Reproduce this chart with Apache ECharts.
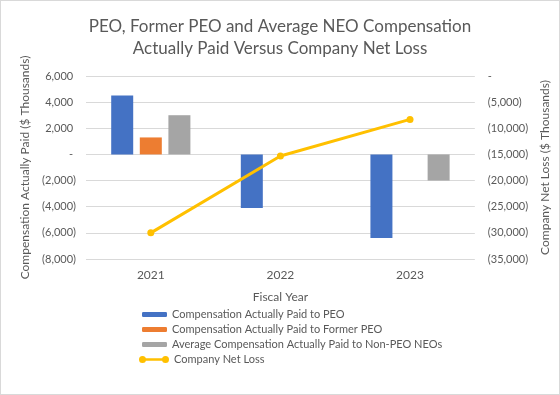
<!DOCTYPE html>
<html><head><meta charset="utf-8">
<script src="https://cdn.jsdelivr.net/npm/echarts@6/dist/echarts.min.js"></script>
<style>html,body{margin:0;padding:0;background:#fff}#c{width:560px;height:395px;box-sizing:border-box;border:1px solid #d9d9d9}</style>
</head><body><div id="c"></div>
<script>
const categories = ['2021', '2022', '2023'];
const peoCap = [4500, -4100, -6400];
const formerPeoCap = [1300, null, null];
const neoCap = [3000, null, -2000];
const netLoss = [-30000, -15300, -8300];
const leftTicks = {min: -8000, max: 6000, interval: 2000};
const rightTicks = {min: -35000, max: 0, interval: 5000};

const FONT = 'Lato';
const GREY = '#595959';
function fmt(v, pad) {
  if (v === 0) return '-' + pad;
  const s = Math.abs(v).toLocaleString('en-US');
  return v < 0 ? '(' + s + ')' : s + pad;
}
const chart = echarts.init(document.getElementById('c'), null, {renderer: 'canvas'});
const lineIcon = 'path://M0,3.5a3.5,3.5 0 1,1 7,0a3.5,3.5 0 1,1 -7,0Z M23,3.5a3.5,3.5 0 1,1 7,0a3.5,3.5 0 1,1 -7,0Z M3,2.3h24v2.4h-24Z';
chart.setOption({
  animation: false,
  textStyle: {fontFamily: FONT, color: GREY},
  title: {
    text: 'PEO, Former PEO and Average NEO Compensation\nActually Paid Versus Company Net Loss',
    left: 'center', top: 10,
    textStyle: {fontFamily: FONT, fontSize: 17, fontWeight: 'normal', color: GREY, lineHeight: 22}
  },
  grid: {left: 85, right: 84, top: 75, bottom: 135, containLabel: false},
  legend: [{
    orient: 'vertical', left: 136, top: 303, itemWidth: 25, itemHeight: 5, itemGap: 4,
    data: ['Compensation Actually Paid to PEO', 'Compensation Actually Paid to Former PEO', 'Average Compensation Actually Paid to Non-PEO NEOs'],
    textStyle: {fontFamily: FONT, fontSize: 11, color: GREY}
  }, {
    orient: 'vertical', left: 133, top: 348, itemWidth: 30, itemHeight: 7,
    data: [{name: 'Company Net Loss', icon: lineIcon, itemStyle: {color: '#FFC000', borderWidth: 0}}],
    textStyle: {fontFamily: FONT, fontSize: 11, color: GREY}
  }],
  xAxis: {
    type: 'category', data: categories,
    name: 'Fiscal Year', nameLocation: 'middle', nameGap: 32,
    nameTextStyle: {fontFamily: FONT, fontSize: 12, color: GREY},
    axisLine: {show: false}, axisTick: {show: false},
    axisLabel: {fontFamily: FONT, fontSize: 12, color: GREY, margin: 10}
  },
  yAxis: [{
    type: 'value', min: leftTicks.min, max: leftTicks.max, interval: leftTicks.interval,
    name: 'Compensation Actually Paid ($ Thousands)', nameLocation: 'middle', nameGap: 51,
    nameTextStyle: {fontFamily: FONT, fontSize: 12, color: GREY},
    axisLine: {show: false}, axisTick: {show: false},
    splitLine: {lineStyle: {color: '#d9d9d9', width: 1}},
    axisLabel: {fontFamily: FONT, fontSize: 11, color: GREY, margin: 10, formatter: v => fmt(v, ' ')}
  }, {
    type: 'value', min: rightTicks.min, max: rightTicks.max, interval: rightTicks.interval,
    name: 'Company Net Loss ($ Thousands)', nameLocation: 'middle', nameGap: 62,
    nameTextStyle: {fontFamily: FONT, fontSize: 12, color: GREY},
    axisLine: {show: false}, axisTick: {show: false}, splitLine: {show: false},
    axisLabel: {fontFamily: FONT, fontSize: 11, color: GREY, margin: 13, formatter: v => fmt(v, '')}
  }],
  series: [
    {name: 'Compensation Actually Paid to PEO', type: 'bar', data: peoCap, barWidth: 22, barGap: '30%', itemStyle: {color: '#4472C4'}},
    {name: 'Compensation Actually Paid to Former PEO', type: 'bar', data: formerPeoCap, barWidth: 22, barGap: '30%', itemStyle: {color: '#ED7D31'}},
    {name: 'Average Compensation Actually Paid to Non-PEO NEOs', type: 'bar', data: neoCap, barWidth: 22, barGap: '30%', itemStyle: {color: '#A5A5A5'}},
    {name: 'Company Net Loss', type: 'line', yAxisIndex: 1, data: netLoss,
     symbol: 'circle', symbolSize: 7, lineStyle: {color: '#FFC000', width: 3}, itemStyle: {color: '#FFC000'}}
  ]
});
</script></body></html>
